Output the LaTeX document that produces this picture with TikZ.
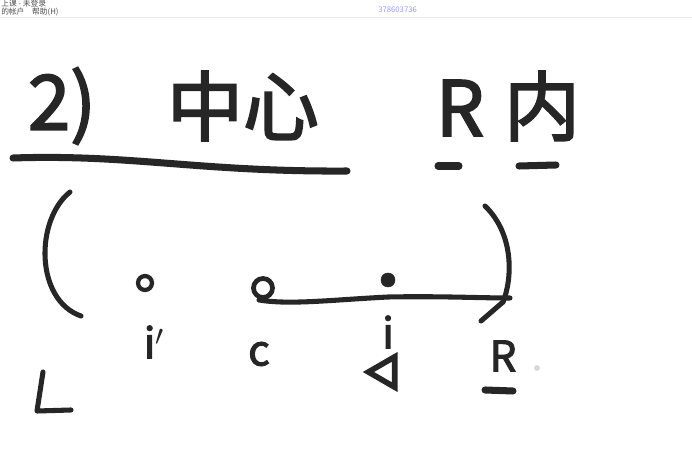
\documentclass[tikz,border=0pt]{standalone}
\usepackage{fontspec}
\setmainfont{Noto Sans CJK SC}[AutoFakeBold=2.5]
\usetikzlibrary{positioning, calc, shapes.geometric}

\tikzset{
    ink/.style={line width=3.6pt, line cap=round, line join=round, black!85},
    bigink/.style={line width=5pt, line cap=round, black!85},
    big/.style={font=\fontsize{54}{54}\selectfont\bfseries, black!85, inner sep=0pt},
    lbl/.style={font=\fontsize{30}{30}\selectfont\bfseries, black!85, inner sep=0pt},
    header/.style={font=\fontsize{5.5}{6}\selectfont, black!70, inner sep=0pt, anchor=west}
}

\begin{document}
\begin{tikzpicture}[x=0.025cm, y=-0.025cm]

    \useasboundingbox (0,0) rectangle (692,458);

    % ================= Window header =================
    \node[header] (title) at (1,4) {上课 - 未登录};
    \node[header] (menu) at (1,12) {的帐户\quad 帮助(H)};
    \node[header, blue!40] (qq) at (378,10) {378603736};
    \draw[gray!15, thin] (0,17) -- (692,17);

    % ================= Heading =================
    \node[big] (num) at (62,106) {2)};
    \node[big] (center) at (243,106) {中心};
    \node[big] (rr) at (460,108) {R};
    \node[big] (inside) at (542,106) {内};

    % Underlines
    \draw[bigink] (13,158) .. controls (130,154) and (200,172) .. (347,171);
    \draw[bigink] (438,166) -- (459,166);
    \draw[bigink] (519,166) -- (556,165);

    % ================= Circle arcs =================
    \draw[ink] (70,192) .. controls (35,220) and (35,300) .. (81,316);
    \draw[ink] (485,206) .. controls (515,235) and (512,280) .. (503,302);
    \draw[ink] (503,302) -- (481,321);

    % ================= Points =================
    \draw[ink, line width=3pt] (145,283) circle (7);
    \draw[ink, line width=3.4pt] (263,288) circle (9.5);
    \filldraw[black!85] (388,280) circle (7);

    \coordinate (cpt) at (259,300);
    \coordinate (ipt) at (388,297);
    \coordinate (rpt) at (510,298);
    \draw[ink] (cpt) .. controls (290,305) and (330,300) .. (ipt)
        .. controls (440,296) and (480,298) .. (rpt);

    % Labels
    \node[lbl] (iprime) at (154,342) {i$'$};
    \node[lbl] (c) at (259,354) {c};
    \node[lbl] (i) at (388,332) {i};
    \node[draw=black!85, line width=4pt, regular polygon, regular polygon sides=3,
          minimum size=25pt, inner sep=0pt, rotate=-30] (tri) at (386,372) {};
    \node[lbl] (rlab) at (503,356) {R};
    \draw[bigink] (485,390) -- (513,391);
    \fill[gray!30] (537,368) circle (3);

    % Corner mark
    \draw[ink] (43,372) -- (37,411) -- (71,410);

\end{tikzpicture}
\end{document}
